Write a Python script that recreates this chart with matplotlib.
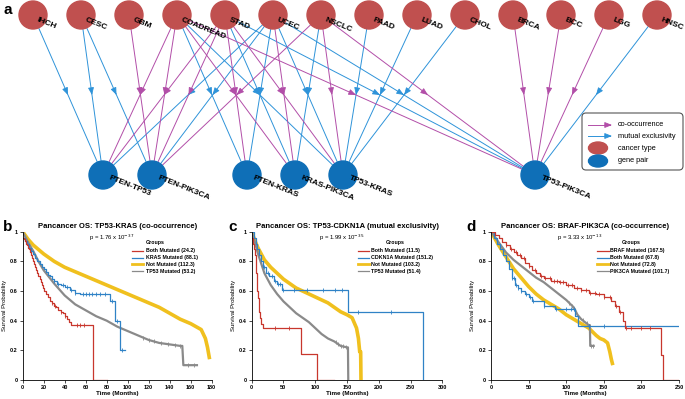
import numpy as np
import matplotlib.pyplot as plt
from matplotlib.patches import Circle, Ellipse, FancyBboxPatch

plt.rcParams['font.family'] = ['Liberation Sans', 'DejaVu Sans']

W, H = 685, 399

# ---------------- network data ----------------
cancers = ['IHCH', 'CESC', 'GBM', 'COADREAD', 'STAD', 'UCEC', 'NSCLC',
           'PAAD', 'LUAD', 'CHOL', 'BRCA', 'BCC', 'LGG', 'HNSC']
pairs = ['PTEN-TP53', 'PTEN-PIK3CA', 'PTEN-KRAS', 'KRAS-PIK3CA', 'TP53-KRAS', 'TP53-PIK3CA']

co_edges = [('GBM', 'PTEN-PIK3CA'), ('COADREAD', 'PTEN-TP53'), ('COADREAD', 'PTEN-PIK3CA'),
            ('COADREAD', 'KRAS-PIK3CA'), ('COADREAD', 'TP53-PIK3CA'), ('STAD', 'PTEN-TP53'),
            ('STAD', 'PTEN-PIK3CA'), ('STAD', 'PTEN-KRAS'), ('STAD', 'TP53-KRAS'),
            ('UCEC', 'KRAS-PIK3CA'), ('NSCLC', 'PTEN-PIK3CA'), ('NSCLC', 'TP53-KRAS'),
            ('NSCLC', 'TP53-PIK3CA'), ('BRCA', 'TP53-PIK3CA'), ('BCC', 'TP53-PIK3CA'),
            ('LGG', 'TP53-PIK3CA')]
me_edges = [('IHCH', 'PTEN-TP53'), ('CESC', 'PTEN-TP53'), ('CESC', 'PTEN-PIK3CA'),
            ('COADREAD', 'PTEN-KRAS'), ('COADREAD', 'TP53-KRAS'), ('STAD', 'KRAS-PIK3CA'),
            ('STAD', 'TP53-PIK3CA'), ('UCEC', 'PTEN-TP53'), ('UCEC', 'PTEN-PIK3CA'),
            ('UCEC', 'PTEN-KRAS'), ('UCEC', 'TP53-KRAS'), ('UCEC', 'TP53-PIK3CA'),
            ('NSCLC', 'KRAS-PIK3CA'), ('PAAD', 'TP53-KRAS'), ('LUAD', 'TP53-KRAS'),
            ('CHOL', 'TP53-KRAS'), ('HNSC', 'TP53-PIK3CA')]

# layout (pixels)
top_pos = {c: (33 + 48.0 * i, 15) for i, c in enumerate(cancers)}
pair_x = [103, 152, 247, 295, 343, 535]
bot_pos = {p: (x, 175) for p, x in zip(pairs, pair_x)}

RED_NODE = '#c0504f'
BLUE_NODE = '#0f6fb7'
CO_COL = '#b24ea8'
ME_COL = '#2e93d9'
HEAD = '-|>,head_length=0.55,head_width=0.22'

# ---------------- KM data ----------------
# panel b: TP53-KRAS
b_labels = ['Both Mutated (24.2)', 'KRAS Mutated (88.1)', 'Not Mutated (112.3)', 'TP53 Mutated (53.2)']
b_red_t = [0, 1, 2, 3, 4, 5, 6, 7, 8, 9, 10, 11, 12, 13, 14, 15, 16, 17, 18, 19, 20, 22, 24,
           26, 28, 30, 32, 34, 36, 38, 40, 42, 44, 46, 67]
b_red_s = [.96, .95, .94, .92, .91, .89, .88, .86, .84, .82, .80, .78, .76, .74, .72, .70, .68,
           .66, .64, .62, .60, .58, .56, .53, .52, .50, .49, .47, .46, .45, .43, .41, .39, .37, 0]
b_red_end = 80
b_red_cens = [28, 31, 36, 40, 52, 55, 58]
b_blue_t = [0, 2, 4, 6, 8, 10, 12, 14, 16, 18, 20, 22, 24, 26, 28, 30, 33, 36, 40, 45, 50, 55, 83, 88, 93]
b_blue_s = [.96, .94, .92, .89, .87, .85, .82, .80, .78, .76, .75, .73, .71, .70, .68, .67, .65,
            .64, .63, .61, .59, .58, .53, .40, .20]
b_blue_end = 97
b_blue_cens = [30, 34, 38, 42, 46, 50, 57, 60, 63, 66, 70, 74, 78, 85, 90, 95]
b_yel_t = [0, 5, 10, 20, 30, 40, 50, 60, 70, 80, 90, 100, 110, 120, 130, 140, 150, 160, 170, 174, 176, 178]
b_yel_s = [1.0, .95, .91, .85, .80, .76, .73, .70, .67, .64, .61, .58, .55, .52, .49, .45, .41, .38, .34, .28, .22, .14]
b_gry_t = [0, 5, 10, 15, 20, 30, 40, 50, 60, 70, 80, 90, 100, 110, 120, 130, 140, 150, 152, 153, 167]
b_gry_s = [1.0, .93, .87, .80, .74, .65, .57, .51, .47, .43, .40, .36, .33, .30, .27, .25, .24, .23, .23, .10, .10]
b_gry_cens = [115, 120, 125, 132, 138, 145, 150, 157, 163]

# panel c: TP53-CDKN1A
c_labels = ['Both Mutated (11.5)', 'CDKN1A Mutated (151.2)', 'Not Mutated (103.2)', 'TP53 Mutated (51.4)']
c_red_t = [0, 2, 4, 5, 6, 7, 8, 9, 10, 11, 12, 13, 15, 18, 78, 103]
c_red_s = [.96, .92, .88, .84, .78, .72, .66, .60, .55, .50, .46, .42, .38, .35, .175, 0]
c_red_end = 130
c_red_cens = [37, 58]
c_blue_t = [0, 3, 6, 9, 12, 15, 18, 22, 28, 35, 40, 47, 152, 270]
c_blue_s = [1.0, .96, .92, .88, .84, .80, .76, .72, .70, .67, .65, .61, .46, 0]
c_blue_end = 270
c_blue_cens = [20, 26, 32, 36, 42, 45, 50, 66, 87, 113, 131, 142, 167, 220]
c_yel_t = [0, 5, 10, 20, 30, 40, 50, 60, 70, 80, 90, 100, 110, 120, 130, 140, 150, 158, 165, 168, 170, 171.5, 172]
c_yel_s = [1.0, .94, .89, .81, .76, .72, .68, .65, .62, .60, .58, .56, .54, .52, .49, .46, .44, .42, .35, .28, .19, .19, 0]
c_gry_t = [0, 5, 10, 20, 30, 40, 50, 60, 70, 80, 90, 100, 110, 120, 130, 140, 150, 151.5, 152]
c_gry_s = [1.0, .93, .85, .72, .64, .58, .53, .49, .45, .42, .39, .35, .31, .28, .26, .23, .22, .22, 0]
c_gry_cens = [132, 136, 140, 144, 148]

# panel d: BRAF-PIK3CA
d_labels = ['BRAF Mutated (167.5)', 'Both Mutated (67.8)', 'Not Mutated (72.8)', 'PIK3CA Mutated (101.7)']
d_red_t = [0, 5, 10, 15, 20, 25, 30, 35, 40, 45, 50, 55, 60, 65, 70, 80, 90, 100, 110, 120, 130,
           140, 150, 160, 165, 170, 175, 178, 226, 229]
d_red_s = [1.0, .98, .96, .93, .91, .88, .86, .84, .82, .79, .77, .74, .72, .70, .69, .67, .66,
           .64, .62, .61, .59, .58, .56, .53, .50, .46, .40, .35, .17, 0]
d_red_end = 250
d_red_cens = [20, 26, 33, 38, 44, 50, 58, 66, 72, 78, 84, 88, 92, 96, 102, 108, 114, 120,
              126, 132, 138, 144, 150, 158, 166, 172, 180, 186, 200, 212]
d_blue_t = [0, 4, 8, 12, 16, 20, 24, 28, 32, 36, 40, 45, 50, 55, 70, 85, 112, 116]
d_blue_s = [1.0, .96, .92, .88, .84, .80, .75, .69, .64, .62, .60, .58, .56, .53, .50, .48, .43, .365]
d_blue_end = 250
d_blue_cens = [28, 30, 33, 36, 40, 46, 52, 56, 70, 86, 100, 106, 110, 130, 150]
d_yel_t = [0, 10, 20, 30, 40, 50, 60, 70, 80, 90, 100, 110, 120, 130, 140, 145, 150, 155, 158, 160, 162]
d_yel_s = [1.0, .91, .83, .75, .69, .63, .58, .54, .51, .48, .44, .41, .38, .35, .30, .28, .27, .25, .19, .14, .10]
d_gry_t = [0, 10, 20, 30, 40, 50, 60, 70, 80, 90, 100, 110, 115, 120, 125, 130, 131.5, 132, 138]
d_gry_s = [1.0, .93, .86, .81, .77, .73, .69, .66, .62, .58, .54, .49, .44, .41, .39, .37, .37, .23, .23]
d_gry_cens = [104, 108, 112, 122, 127, 133, 136]

KM_RED = '#c8372d'
KM_BLUE = '#2f82c6'
KM_YEL = '#f0c01e'
KM_GRY = '#8a8a8a'

fig = plt.figure(figsize=(W / 100, H / 100), dpi=100)


def px_axes(x0, y0, x1, y1):
    return fig.add_axes([x0 / W, 1 - y1 / H, (x1 - x0) / W, (y1 - y0) / H])


# ---------------- panel a: network ----------------
ax = px_axes(0, 0, W, 200)
ax.set_xlim(0, W)
ax.set_ylim(200, 0)
ax.axis('off')

for edges, col in [(me_edges, ME_COL), (co_edges, CO_COL)]:
    for src, dst in edges:
        x0, y0 = top_pos[src]
        x1, y1 = bot_pos[dst]
        ax.plot([x0, x1], [y0, y1], color=col, lw=0.7, zorder=1)
        mx, my = (x0 + x1) / 2, (y0 + y1) / 2
        d = np.hypot(x1 - x0, y1 - y0)
        ux, uy = (x1 - x0) / d, (y1 - y0) / d
        ax.annotate('', xy=(mx, my), xytext=(mx - 5 * ux, my - 5 * uy),
                    arrowprops=dict(arrowstyle=HEAD, color=col, lw=0.6,
                                    shrinkA=0, shrinkB=0, mutation_scale=8), zorder=2)

for c in cancers:
    x, y = top_pos[c]
    ax.add_patch(Circle((x, y), 14, color=RED_NODE, zorder=3))
    ax.text(x + 4, y + 5, c, rotation=-22, rotation_mode='anchor', ha='left', va='center',
            fontsize=6, fontweight='bold', zorder=4)
for p in pairs:
    x, y = bot_pos[p]
    ax.add_patch(Circle((x, y), 14, color=BLUE_NODE, zorder=3))
    ax.text(x + 6, y + 3, p, rotation=-22, rotation_mode='anchor', ha='left', va='center',
            fontsize=6, fontweight='bold', zorder=4)

# legend box
ax.add_patch(FancyBboxPatch((582, 113), 101, 57, boxstyle='round,pad=0,rounding_size=4',
                            fc='white', ec='#555555', lw=0.8, zorder=5))
leg_rows = [125, 136, 148, 161]
for yy, col in zip(leg_rows[:2], [CO_COL, ME_COL]):
    ax.plot([588, 610], [yy, yy], color=col, lw=0.7, zorder=6)
    ax.annotate('', xy=(612, yy), xytext=(605, yy),
                arrowprops=dict(arrowstyle=HEAD, color=col, lw=0.6,
                                shrinkA=0, shrinkB=0, mutation_scale=8), zorder=6)
ax.add_patch(Ellipse((598, leg_rows[2]), 19, 12, color=RED_NODE, zorder=6))
ax.add_patch(Ellipse((598, leg_rows[3]), 19, 12, color=BLUE_NODE, zorder=6))
for yy, t in zip(leg_rows, ['co-occurrence', 'mutual exclusivity', 'cancer type', 'gene pair']):
    ax.text(618, yy, t, fontsize=5.3, va='center', ha='left', zorder=6)

fig.text(3 / W, 1 - 14 / H, 'a', fontsize=11, fontweight='bold')


# ---------------- KM panels ----------------
def step_at(t, ts, ss):
    i = np.searchsorted(ts, t, side='right') - 1
    return ss[i]


def curves_order(curves):
    # legend order: red, blue, yellow, grey
    order = [KM_RED, KM_BLUE, KM_YEL, KM_GRY]
    return sorted(curves, key=lambda c: order.index(c[4]))


def km_panel(box, xmax, xstep, title, pval, labels, curves, leg):
    ax = px_axes(*box)
    # curves: list of (t, s, end, cens, color, lw, step)
    for t, s, end, cens, col, lw, is_step in curves:
        if is_step:
            ax.step(list(t) + [end], list(s) + [s[-1]], where='post', color=col, lw=lw)
        else:
            ax.plot(t, s, color=col, lw=lw, solid_capstyle='butt')
        if cens:
            ys = [step_at(c, t, s) if is_step else np.interp(c, t, s) for c in cens]
            ax.plot(cens, ys, ls='none', marker='|', color=col, ms=3.5, mew=0.6)
    ax.set_xlim(0, xmax)
    ax.set_ylim(0, 1)
    ax.set_xticks(np.arange(0, xmax + 1, xstep))
    ax.set_yticks([0, 0.2, 0.4, 0.6, 0.8, 1.0])
    ax.set_yticklabels(['0', '0.2', '0.4', '0.6', '0.8', '1'])
    for s in ['top', 'right']:
        ax.spines[s].set_visible(False)
    for s in ['left', 'bottom']:
        ax.spines[s].set_linewidth(0.6)
    ax.tick_params(labelsize=4, length=2, width=0.5, pad=1.5)
    for lab in ax.get_xticklabels() + ax.get_yticklabels():
        lab.set_fontweight('bold')
    ax.set_xlabel('Time (Months)', fontsize=4.5, fontweight='bold', labelpad=1)
    ax.set_ylabel('Survival Probability', fontsize=4.3, labelpad=2)
    ax.set_title(title, fontsize=5.5, fontweight='bold', pad=3)
    ax.text(0.47, 0.957, pval, transform=ax.transAxes, fontsize=4.3, ha='center', va='center')
    gx, lx0, lx1, tx = leg
    ax.text(gx, 0.926, 'Groups', transform=ax.transAxes, fontsize=3.8, fontweight='bold',
            ha='center', va='center')
    for (t, s, end, cens, col, lw, is_step), lab, yy in zip(curves_order(curves), labels,
                                                              [0.872, 0.826, 0.780, 0.734]):
        ax.plot([lx0, lx1], [yy, yy], transform=ax.transAxes, color=col,
                lw=2.0 if col == KM_YEL else 0.9, clip_on=False)
        ax.text(tx, yy, lab, transform=ax.transAxes, fontsize=3.8, fontweight='bold',
                ha='left', va='center')
    return ax


km_panel((22.7, 231.7, 211.7, 380), 180, 20, 'Pancancer OS: TP53-KRAS (co-occurrence)',
         r'p = 1.76 x 10$^{-37}$', b_labels,
         [(b_yel_t, b_yel_s, 178, None, KM_YEL, 2.6, False),
          (b_gry_t, b_gry_s, 167, b_gry_cens, KM_GRY, 1.6, False),
          (b_blue_t, b_blue_s, b_blue_end, b_blue_cens, KM_BLUE, 0.9, True),
          (b_red_t, b_red_s, b_red_end, b_red_cens, KM_RED, 0.9, True)],
         (0.70, 0.578, 0.636, 0.652))

km_panel((251.7, 231.7, 442.3, 380), 300, 50, 'Pancancer OS: TP53-CDKN1A (mutual exclusivity)',
         r'p = 1.99 x 10$^{-35}$', c_labels,
         [(c_yel_t, c_yel_s, 172, None, KM_YEL, 2.6, False),
          (c_gry_t, c_gry_s, 152, c_gry_cens, KM_GRY, 1.6, False),
          (c_blue_t, c_blue_s, c_blue_end, c_blue_cens, KM_BLUE, 0.9, True),
          (c_red_t, c_red_s, c_red_end, c_red_cens, KM_RED, 0.9, True)],
         (0.752, 0.556, 0.615, 0.624))

km_panel((491, 231.7, 679, 380), 250, 50, 'Pancancer OS: BRAF-PIK3CA (co-occurrence)',
         r'p = 3.33 x 10$^{-13}$', d_labels,
         [(d_yel_t, d_yel_s, 162, None, KM_YEL, 2.6, False),
          (d_gry_t, d_gry_s, 138, d_gry_cens, KM_GRY, 1.6, False),
          (d_blue_t, d_blue_s, d_blue_end, d_blue_cens, KM_BLUE, 0.9, True),
          (d_red_t, d_red_s, d_red_end, d_red_cens, KM_RED, 0.9, True)],
         (0.748, 0.562, 0.628, 0.633))

fig.text(3 / W, 1 - 231 / H, 'b', fontsize=11, fontweight='bold')
fig.text(228 / W, 1 - 231 / H, 'c', fontsize=11, fontweight='bold')
fig.text(466 / W, 1 - 231 / H, 'd', fontsize=11, fontweight='bold')

fig.savefig('out.png', dpi=100)
